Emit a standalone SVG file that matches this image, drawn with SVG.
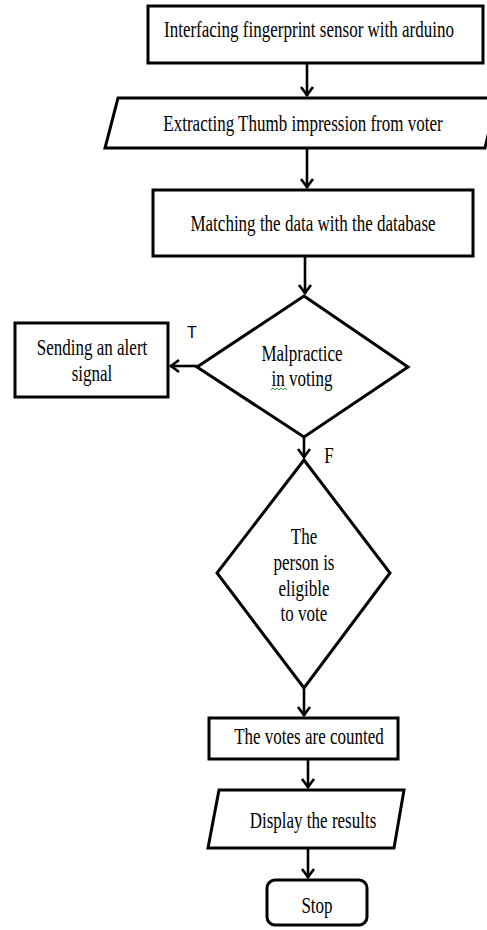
<svg xmlns="http://www.w3.org/2000/svg" width="487" height="930" viewBox="0 0 487 930">
<defs>
<style>
.shape{fill:#fff;stroke:#000;stroke-width:3}
.conn{fill:none;stroke:#000;stroke-width:2.6}
.t{font-family:"Liberation Serif","Times New Roman",serif;font-size:23px;fill:#000;text-anchor:middle}
.s{font-family:"Liberation Sans",Arial,sans-serif;font-size:16px;fill:#000}
</style>
<marker id="ah" markerUnits="userSpaceOnUse" markerWidth="16" markerHeight="16" viewBox="-12 -8 14 16" refX="0" refY="0" orient="auto">
<path d="M-9,-6 L-1,0 L-9,6" fill="none" stroke="#000" stroke-width="2.6"/>
</marker>
</defs>
<rect width="487" height="930" fill="#fff"/>
<g id="connectors">
<line class="conn" x1="307" y1="63" x2="307" y2="96" marker-end="url(#ah)"/>
<line class="conn" x1="307" y1="148" x2="307" y2="188" marker-end="url(#ah)"/>
<line class="conn" x1="305" y1="256" x2="305" y2="294" marker-end="url(#ah)"/>
<line class="conn" x1="197" y1="366" x2="170" y2="366" marker-end="url(#ah)"/>
<line class="conn" x1="304" y1="437" x2="304" y2="458" marker-end="url(#ah)"/>
<line class="conn" x1="304" y1="688" x2="304" y2="716" marker-end="url(#ah)"/>
<line class="conn" x1="308" y1="759" x2="308" y2="788" marker-end="url(#ah)"/>
<line class="conn" x1="308" y1="848" x2="308" y2="878" marker-end="url(#ah)"/>
<text class="s" x="187" y="338">T</text>
<text class="t" transform="translate(329,463) scale(0.74,1)">F</text>
</g>
<g id="n1">
<rect class="shape" x="148" y="6" width="335" height="57"/>
<text class="t" transform="translate(309,37) scale(0.74,1)">Interfacing fingerprint sensor with arduino</text>
</g>
<g id="n2">
<polygon class="shape" points="118,98 497,98 485,148 105,148"/>
<text class="t" transform="translate(303,131) scale(0.74,1)">Extracting Thumb impression from voter</text>
</g>
<g id="n3">
<rect class="shape" x="153" y="190" width="320" height="66"/>
<text class="t" transform="translate(313,231) scale(0.74,1)">Matching the data with the database</text>
</g>
<g id="n4">
<polygon class="shape" points="304,296 408,367 304,437 197,367"/>
<text class="t" transform="translate(302,361) scale(0.74,1)">Malpractice</text>
<text class="t" transform="translate(302,386) scale(0.74,1)">in voting</text>
<path d="M271,390 l2,-2 l2,2 l2,-2 l2,2 l2,-2 l2,2 l2,-2 l2,2" fill="none" stroke="#3a9a3a" stroke-width="1"/>
</g>
<g id="n5">
<rect class="shape" x="15" y="323" width="153" height="74"/>
<text class="t" transform="translate(92,355) scale(0.74,1)">Sending an alert</text>
<text class="t" transform="translate(92,381) scale(0.74,1)">signal</text>
</g>
<g id="n6">
<polygon class="shape" points="304,460 390,573 304,688 217,573"/>
<text class="t" transform="translate(304,544) scale(0.74,1)">The</text>
<text class="t" transform="translate(304,570) scale(0.74,1)">person is</text>
<text class="t" transform="translate(304,596) scale(0.74,1)">eligible</text>
<text class="t" transform="translate(304,621) scale(0.74,1)">to vote</text>
</g>
<g id="n7">
<rect class="shape" x="209" y="718" width="189" height="41"/>
<text class="t" transform="translate(309,744) scale(0.74,1)">The votes are counted</text>
</g>
<g id="n8">
<polygon class="shape" points="219,790 404,790 394,848 208,848"/>
<text class="t" transform="translate(313,828) scale(0.74,1)">Display the results</text>
</g>
<g id="n9">
<rect class="shape" x="267" y="880" width="100" height="45" rx="8" ry="8"/>
<text class="t" transform="translate(317,913) scale(0.74,1)">Stop</text>
</g>
</svg>
